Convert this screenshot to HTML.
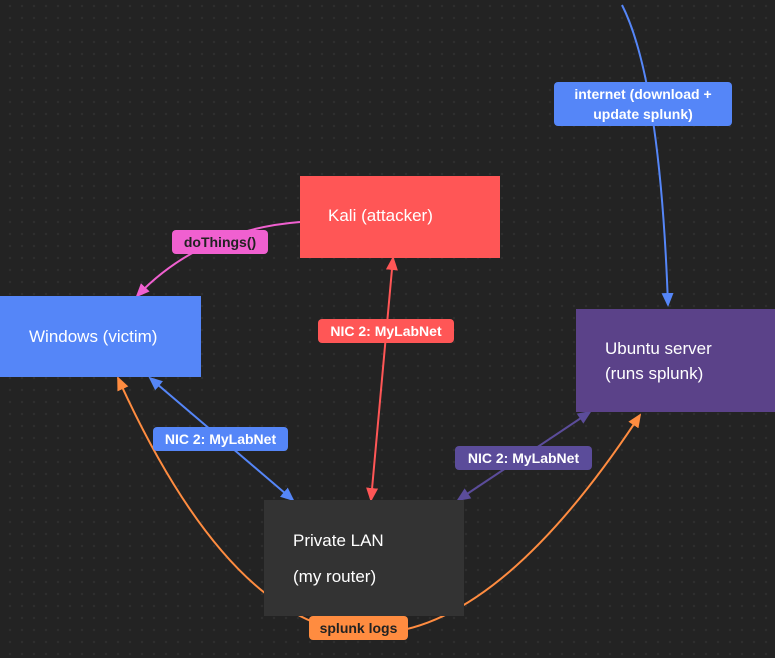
<!DOCTYPE html>
<html><head><style>
body{margin:0;width:775px;height:658px;overflow:hidden;background:#232323;
background-image:radial-gradient(circle,#2e2e2e 1.2px,transparent 1.3px);background-size:12px 12px;background-position:4px 0;
font-family:"Liberation Sans",sans-serif;}
.n{position:absolute;color:#fff;font-size:17px;}
.l{position:absolute;color:#fff;font-size:14px;font-weight:bold;border-radius:4px;text-align:center;line-height:24px;}
</style></head><body>
<svg width="775" height="658" style="position:absolute;left:0;top:0">
<defs>
<marker id="ab" markerWidth="14" markerHeight="12" refX="12" refY="6" orient="auto-start-reverse" markerUnits="userSpaceOnUse"><path d="M0,0 L14,6 L0,12 z" fill="#5586f8"/></marker>
<marker id="ar" markerWidth="14" markerHeight="12" refX="12" refY="6" orient="auto-start-reverse" markerUnits="userSpaceOnUse"><path d="M0,0 L14,6 L0,12 z" fill="#ff5656"/></marker>
<marker id="ap" markerWidth="14" markerHeight="12" refX="12" refY="6" orient="auto-start-reverse" markerUnits="userSpaceOnUse"><path d="M0,0 L14,6 L0,12 z" fill="#5b4c9a"/></marker>
<marker id="ao" markerWidth="14" markerHeight="12" refX="12" refY="6" orient="auto-start-reverse" markerUnits="userSpaceOnUse"><path d="M0,0 L14,6 L0,12 z" fill="#ff8c40"/></marker>
<marker id="ak" markerWidth="14" markerHeight="12" refX="12" refY="6" orient="auto-start-reverse" markerUnits="userSpaceOnUse"><path d="M0,0 L14,6 L0,12 z" fill="#f060d0"/></marker>
</defs>
<g fill="none" stroke-width="2">
<path d="M118,378 Q341,870 640,415" stroke="#ff8c40" marker-start="url(#ao)" marker-end="url(#ao)"/>
<path d="M622,5 Q660,80 668,305" stroke="#5586f8" marker-end="url(#ab)"/>
<path d="M300,222 Q200,230 137,296" stroke="#f060d0" marker-end="url(#ak)"/>
<path d="M150,378 L293,500" stroke="#5586f8" marker-start="url(#ab)" marker-end="url(#ab)"/>
<path d="M393,258 L371,500" stroke="#ff5656" marker-start="url(#ar)" marker-end="url(#ar)"/>
<path d="M590,412 L458,500" stroke="#5b4c9a" marker-start="url(#ap)" marker-end="url(#ap)"/>
</g>
</svg>
<div class="n" style="left:264px;top:500px;width:200px;height:116px;background:#333;"><div style="position:absolute;left:29px;top:31px">Private LAN</div><div style="position:absolute;left:29px;top:67px">(my router)</div></div>
<div class="n" style="left:300px;top:176px;width:200px;height:82px;background:#ff5656;"><div style="position:absolute;left:28px;top:30px">Kali (attacker)</div></div>
<div class="n" style="left:0;top:296px;width:201px;height:81px;background:#5586f8;"><div style="position:absolute;left:29px;top:31px">Windows (victim)</div></div>
<div class="n" style="left:576px;top:309px;width:199px;height:103px;background:#5b4289;line-height:25px;"><div style="position:absolute;left:29px;top:27px">Ubuntu server<br>(runs splunk)</div></div>
<div class="l" style="left:554px;top:82px;width:178px;height:44px;line-height:20px;padding-top:2px;box-sizing:border-box;background:#5586f8;">internet (download +<br>update splunk)</div>
<div class="l" style="left:172px;top:230px;width:96px;height:24px;background:#f060d0;color:#222;">doThings()</div>
<div class="l" style="left:318px;top:319px;width:136px;height:24px;background:#ff5656;">NIC 2: MyLabNet</div>
<div class="l" style="left:153px;top:427px;width:135px;height:24px;background:#5586f8;">NIC 2: MyLabNet</div>
<div class="l" style="left:455px;top:446px;width:137px;height:24px;background:#5b4c9a;">NIC 2: MyLabNet</div>
<div class="l" style="left:309px;top:616px;width:99px;height:24px;background:#ff8c40;color:#222;">splunk logs</div>
</body></html>
